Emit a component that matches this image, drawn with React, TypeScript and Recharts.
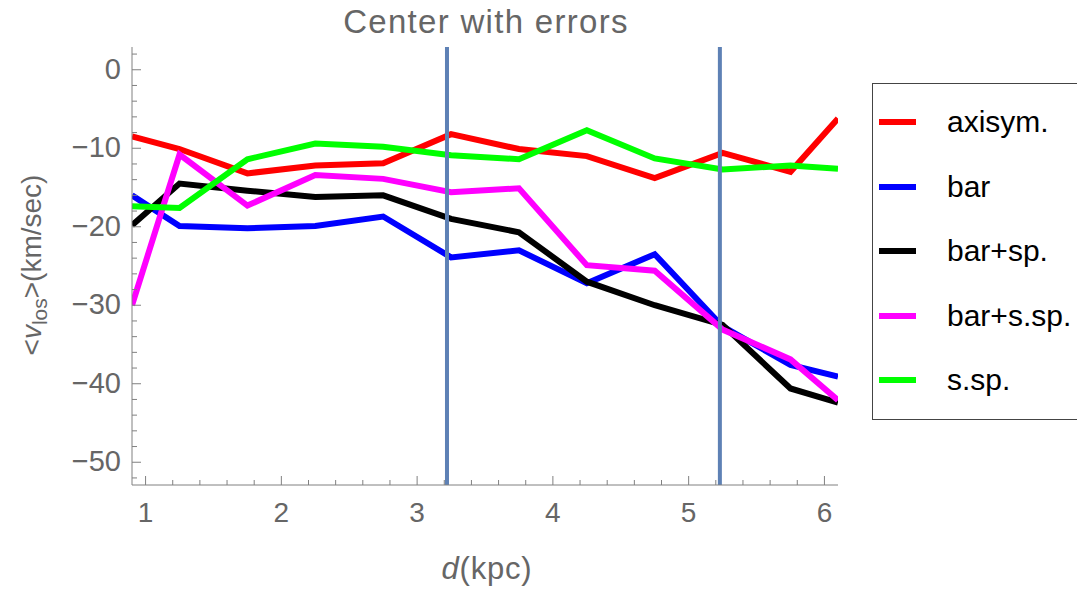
import React from "react";
import { LineChart, Line, XAxis, YAxis, ReferenceLine } from "recharts";

// distance bins (kpc)
const distances = [0.9, 1.25, 1.75, 2.25, 2.75, 3.25, 3.75, 4.25, 4.75, 5.25, 5.75, 6.1];

// mean line-of-sight velocity (km/sec) per model
const axisym = [-8.5, -10.1, -13.2, -12.2, -11.9, -8.2, -10.1, -11.0, -13.8, -10.6, -13.0, -6.2];
const bar = [-16.0, -19.9, -20.2, -19.9, -18.7, -23.9, -23.0, -27.2, -23.5, -32.7, -37.6, -39.1];
const barSp = [-19.8, -14.5, -15.4, -16.2, -16.0, -19.0, -20.7, -27.0, -30.0, -32.5, -40.6, -42.4];
const barSsp = [-30.0, -10.8, -17.3, -13.4, -13.9, -15.6, -15.1, -24.9, -25.6, -33.1, -36.9, -42.1];
const ssp = [-17.4, -17.6, -11.4, -9.4, -9.8, -10.9, -11.4, -7.7, -11.3, -12.7, -12.2, -12.6];

const seriesNames = ["axisym.", "bar", "bar+sp.", "bar+s.sp.", "s.sp."];
const seriesKeys = ["axisym", "bar", "barSp", "barSsp", "ssp"];
const seriesColors = ["#ff0000", "#0000ff", "#000000", "#ff00ff", "#00ff00"];

const markers = [3.22, 5.23];

// tick positions: labels on the integers / tens, small marks in between
const xMinor: number[] = [];
for (let i = 0; i <= 25; i++) xMinor.push(Math.round((1 + i * 0.2) * 10) / 10);
const yMinor: number[] = [];
for (let v = 2; v >= -52; v -= 2) yMinor.push(v);

const data = distances.map((d, i) => ({
  d,
  axisym: axisym[i],
  bar: bar[i],
  barSp: barSp[i],
  barSsp: barSsp[i],
  ssp: ssp[i],
}));

const FONT = "'Liberation Sans', Arial, sans-serif";
const FRAME = "#808080";
const LABEL = "#666666";

const isMajor = (v: number, step: number) => Math.abs(v / step - Math.round(v / step)) < 1e-6;

const XTick = ({ x, y, payload, top }: any) => {
  const v = payload.value;
  const len = isMajor(v, 1) ? 9 : 5;
  const dir = top ? 1 : -1;
  return (
    <g>
      <line x1={x} y1={y} x2={x} y2={y + dir * len} stroke={FRAME} strokeWidth={1} />
      {!top && isMajor(v, 1) && (
        <text x={x} y={y + 37} textAnchor="middle" fill={LABEL} fontSize={28} fontFamily={FONT}>
          {v}
        </text>
      )}
    </g>
  );
};

const YTick = ({ x, y, payload, right }: any) => {
  const v = payload.value;
  const len = isMajor(v, 10) ? 9 : 5;
  const dir = right ? -1 : 1;
  return (
    <g>
      <line x1={x} y1={y} x2={x + dir * len} y2={y} stroke={FRAME} strokeWidth={1} />
      {!right && isMajor(v, 10) && (
        <text x={x - 11} y={y + 9} textAnchor="end" fill={LABEL} fontSize={29} fontFamily={FONT}>
          {v === 0 ? "0" : "\u2212" + Math.abs(v)}
        </text>
      )}
    </g>
  );
};

export default function App() {
  return (
    <div
      style={{
        position: "absolute",
        left: 0,
        top: 0,
        width: 1077,
        height: 589,
        overflow: "hidden",
        background: "#fff",
        fontFamily: FONT,
      }}
    >
      <div
        style={{
          position: "absolute",
          left: 236,
          width: 500,
          top: 0,
          lineHeight: "44px",
          textAlign: "center",
          fontSize: 33,
          letterSpacing: 1.3,
          color: LABEL,
        }}
      >
        Center with errors
      </div>

      <LineChart width={1077} height={589} data={data} margin={{ top: 47, right: 239, left: 0, bottom: 0 }}>
        <XAxis
          xAxisId="b"
          dataKey="d"
          type="number"
          domain={[0.9, 6.1]}
          allowDataOverflow
          ticks={xMinor}
          interval={0}
          height={104}
          tickSize={0}
          tickMargin={0}
          tickLine={false}
          axisLine={{ stroke: FRAME }}
          tick={<XTick />}
        />
        <XAxis
          xAxisId="t"
          orientation="top"
          dataKey="d"
          type="number"
          domain={[0.9, 6.1]}
          allowDataOverflow
          ticks={xMinor}
          interval={0}
          height={0}
          tickSize={0}
          tickMargin={0}
          tickLine={false}
          axisLine={{ stroke: FRAME }}
          tick={<XTick top />}
        />
        <YAxis
          yAxisId="l"
          type="number"
          domain={[-52.9, 2.9]}
          allowDataOverflow
          ticks={yMinor}
          interval={0}
          width={132}
          tickSize={0}
          tickMargin={0}
          tickLine={false}
          axisLine={{ stroke: FRAME }}
          tick={<YTick />}
        />
        <YAxis
          yAxisId="r"
          orientation="right"
          type="number"
          domain={[-52.9, 2.9]}
          allowDataOverflow
          ticks={yMinor}
          interval={0}
          width={0}
          tickSize={0}
          tickMargin={0}
          tickLine={false}
          axisLine={{ stroke: FRAME }}
          tick={<YTick right />}
        />
        {seriesKeys.map((k, i) => (
          <Line
            key={k}
            xAxisId="b"
            yAxisId="l"
            type="linear"
            dataKey={k}
            stroke={seriesColors[i]}
            strokeWidth={6}
            dot={false}
            isAnimationActive={false}
          />
        ))}
        {markers.map((m) => (
          <ReferenceLine key={m} x={m} xAxisId="b" yAxisId="l" stroke="#5e81b5" strokeWidth={4} />
        ))}
      </LineChart>

      <div
        style={{
          position: "absolute",
          left: 34,
          top: 265,
          transform: "translate(-50%, -50%) rotate(-90deg)",
          transformOrigin: "center",
          whiteSpace: "nowrap",
          fontSize: 28,
          color: LABEL,
        }}
      >
        &lt;<i>v</i>
        <sub style={{ fontSize: 21 }}>los</sub>&gt;(km/sec)
      </div>

      <div
        style={{
          position: "absolute",
          left: 377,
          width: 220,
          top: 550,
          lineHeight: "38px",
          textAlign: "center",
          fontSize: 31,
          letterSpacing: 0.8,
          color: LABEL,
        }}
      >
        <i>d</i>(kpc)
      </div>

      <div
        style={{
          position: "absolute",
          left: 872,
          top: 83,
          width: 240,
          height: 337,
          border: "1px solid #444",
          boxSizing: "border-box",
        }}
      >
        {seriesNames.map((n, i) => (
          <div
            key={n}
            style={{
              position: "absolute",
              left: 0,
              top: 38 - 20 + i * 64.6,
              height: 40,
              display: "flex",
              alignItems: "center",
              whiteSpace: "nowrap",
            }}
          >
            <div style={{ marginLeft: 6, width: 37, height: 6, background: seriesColors[i] }} />
            <div style={{ marginLeft: 31, fontSize: 30, color: "#000" }}>{n}</div>
          </div>
        ))}
      </div>
    </div>
  );
}
